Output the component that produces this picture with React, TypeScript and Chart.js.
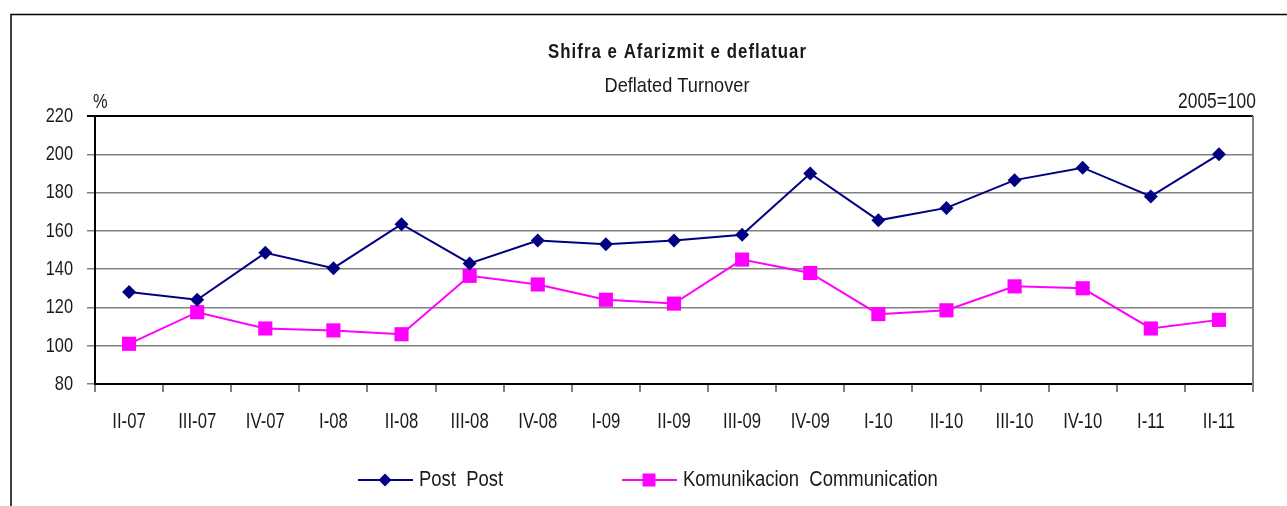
import React, { useEffect, useRef } from "react";
import { Chart, registerables } from "chart.js";

Chart.register(...registerables);

const categories = ["II-07", "III-07", "IV-07", "I-08", "II-08", "III-08", "IV-08", "I-09", "II-09", "III-09", "IV-09", "I-10", "II-10", "III-10", "IV-10", "I-11", "II-11"];
const postValues = [128, 124, 148.5, 140.5, 163.5, 143, 155, 153, 155, 158, 190, 165.5, 172, 186.5, 193, 178, 200];
const commValues = [101, 117.5, 109, 108, 106, 136.5, 132, 124, 122, 145, 138, 116.5, 118.5, 131, 130, 109, 113.5];
const yTicks = [80, 100, 120, 140, 160, 180, 200, 220];

const titleText = "Shifra e Afarizmit e deflatuar";
const subtitleText = "Deflated Turnover";
const unitLeft = "%";
const unitRight = "2005=100";
const seriesLabels = ["Post  Post", "Komunikacion  Communication"];

const FONT = '"Liberation Sans", Arial, sans-serif';
const TEXT = "#1a1a1a";

type Opt = { sx?: number; width?: number; spacingTo?: number };

function narrow(
  ctx: CanvasRenderingContext2D,
  text: string,
  x: number,
  y: number,
  align: "left" | "center" | "right",
  font: string,
  opt: Opt
) {
  ctx.save();
  ctx.font = font;
  ctx.textAlign = "left";
  ctx.textBaseline = "middle";
  const raw = ctx.measureText(text).width;
  let sx = opt.sx ?? 1;
  if (opt.width) sx = opt.width / raw;
  let ls = 0;
  if (opt.spacingTo && text.length > 1) {
    ls = Math.max(0, (opt.spacingTo / sx - raw) / (text.length - 1));
  }
  (ctx as any).letterSpacing = `${ls}px`;
  const w = (raw + ls * (text.length - 1)) * sx;
  let left = x;
  if (align === "center") left = x - w / 2;
  else if (align === "right") left = x - w;
  ctx.translate(left, y);
  ctx.scale(sx, 1);
  ctx.fillStyle = TEXT;
  ctx.fillText(text, 0, 0);
  ctx.restore();
}

const decor = {
  id: "decor",
  afterDraw(chart: any) {
    const ctx = chart.ctx as CanvasRenderingContext2D;
    const a = chart.chartArea;
    ctx.save();
    // outer frame
    ctx.strokeStyle = "#000";
    ctx.lineWidth = 1.5;
    ctx.beginPath();
    ctx.moveTo(11, 520);
    ctx.lineTo(11, 14.5);
    ctx.lineTo(1300, 14.5);
    ctx.stroke();
    // plot top (black) and right (gray)
    ctx.lineWidth = 2;
    ctx.strokeStyle = "#000";
    ctx.beginPath();
    ctx.moveTo(a.left - 8, a.top);
    ctx.lineTo(a.right, a.top);
    ctx.stroke();
    ctx.strokeStyle = "#808080";
    ctx.beginPath();
    ctx.moveTo(a.right, a.top);
    ctx.lineTo(a.right, a.bottom + 8);
    ctx.stroke();
    ctx.restore();

    // tick labels from the scales
    const xs = chart.scales.x;
    xs.ticks.forEach((t: any, i: number) => {
      const lbl = chart.data.labels[t.value ?? i];
      narrow(ctx, String(lbl), xs.getPixelForTick(i), 422, "center", `22px ${FONT}`, { sx: 0.76 });
    });
    const ys = chart.scales.y;
    ys.ticks.forEach((t: any) => {
      narrow(ctx, String(t.value), a.left - 22, ys.getPixelForValue(t.value), "right", `21px ${FONT}`, { sx: 0.78 });
    });

    // title and units
    narrow(ctx, titleText, 677, 52, "center", `bold 21px ${FONT}`, { sx: 0.8, spacingTo: 258 });
    narrow(ctx, subtitleText, 677, 86, "center", `21px ${FONT}`, { width: 145 });
    narrow(ctx, unitLeft, 93, 102, "left", `21px ${FONT}`, { sx: 0.78 });
    narrow(ctx, unitRight, 1256, 102, "right", `22px ${FONT}`, { width: 78 });

    // legend
    const starts = [358, 622];
    const y = 480;
    ctx.save();
    chart.data.datasets.forEach((ds: any, i: number) => {
      const x0 = starts[i];
      ctx.strokeStyle = ds.borderColor;
      ctx.lineWidth = 2;
      ctx.beginPath();
      ctx.moveTo(x0, y);
      ctx.lineTo(x0 + 55, y);
      ctx.stroke();
      ctx.fillStyle = ds.backgroundColor;
      const cx = x0 + 27;
      ctx.beginPath();
      if (ds.pointStyle === "rectRot") {
        ctx.moveTo(cx - 6.5, y);
        ctx.lineTo(cx, y - 6.5);
        ctx.lineTo(cx + 6.5, y);
        ctx.lineTo(cx, y + 6.5);
        ctx.closePath();
      } else {
        ctx.rect(cx - 6.5, y - 6.5, 13, 13);
      }
      ctx.fill();
      narrow(ctx, ds.label, x0 + 61, y, "left", `22px ${FONT}`, { sx: 0.84 });
    });
    ctx.restore();
  },
};

export default function App() {
  const ref = useRef<HTMLCanvasElement | null>(null);
  useEffect(() => {
    document.body.style.margin = "0";
    const chart = new Chart(ref.current as HTMLCanvasElement, {
      type: "line",
      data: {
        labels: categories,
        datasets: [
          {
            label: seriesLabels[0],
            data: postValues,
            borderColor: "#000080",
            backgroundColor: "#000080",
            borderWidth: 2,
            pointStyle: "rectRot",
            pointRadius: 7,
            pointBorderWidth: 0,
            tension: 0,
          },
          {
            label: seriesLabels[1],
            data: commValues,
            borderColor: "#FF00FF",
            backgroundColor: "#FF00FF",
            borderWidth: 2,
            pointStyle: "rect",
            pointRadius: 10,
            pointBorderWidth: 0,
            tension: 0,
          },
        ],
      },
      options: {
        animation: false,
        responsive: false,
        devicePixelRatio: 1,
        layout: { padding: { left: 0, right: 34, top: 116, bottom: 62 } },
        plugins: { legend: { display: false }, title: { display: false }, tooltip: { enabled: false } },
        scales: {
          x: {
            type: "category",
            offset: true,
            grid: { offset: true, drawOnChartArea: false, drawTicks: true, tickLength: 8, color: "#808080", lineWidth: 2 },
            border: { color: "#000", width: 2 },
            ticks: { display: false, autoSkip: false, maxRotation: 0 },
            afterFit: (s: any) => { s.height = 60; },
          },
          y: {
            min: yTicks[0],
            max: yTicks[yTicks.length - 1],
            afterBuildTicks: (s: any) => { s.ticks = yTicks.map((v) => ({ value: v })); },
            grid: { color: "#808080", lineWidth: 1.5, tickLength: 8, drawTicks: true },
            border: { color: "#000", width: 2 },
            ticks: { display: false },
            afterFit: (s: any) => { s.width = 95; },
          },
        },
      },
      plugins: [decor],
    });
    return () => chart.destroy();
  }, []);
  return (
    <div style={{ position: "absolute", left: 0, top: 0, width: 1287, height: 506, background: "#fff" }}>
      <canvas ref={ref} width={1287} height={506} style={{ display: "block" }} />
    </div>
  );
}
